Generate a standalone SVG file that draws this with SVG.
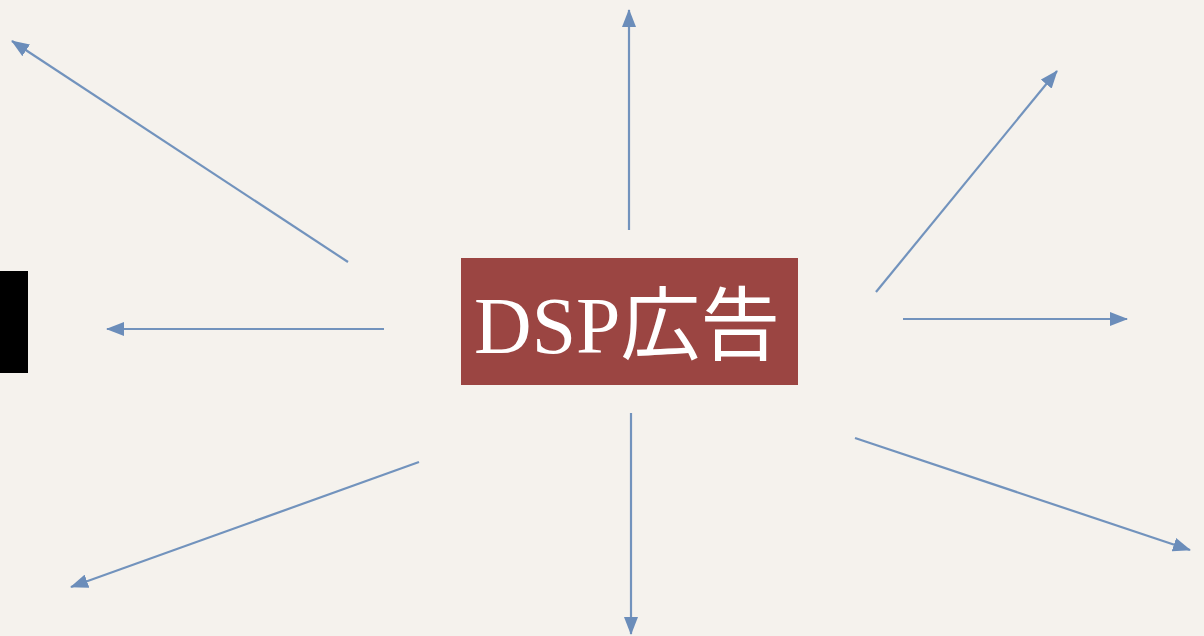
<svg xmlns="http://www.w3.org/2000/svg" width="1204" height="636" viewBox="0 0 1204 636">
<style>
.c{stroke:#7293bd;stroke-width:2.2;fill:none;marker-end:url(#ah)}
.lbl{font-family:"Liberation Serif","Noto Sans CJK JP",serif;font-size:80px;fill:#ffffff}
</style>
<defs>
<marker id="ah" viewBox="0 0 18 14" refX="17" refY="7" markerWidth="18" markerHeight="14" markerUnits="userSpaceOnUse" orient="auto">
<path d="M0,0 L18,7 L0,14 z" fill="#6b8dba"/>
</marker>
</defs>
<rect width="1204" height="636" fill="#f5f2ed"/>
<g id="left-edge">
<rect x="0" y="271" width="28" height="102" fill="#000000"/>
</g>
<g id="center">
<rect x="461" y="258" width="337" height="127" fill="#9b4542"/>
<text class="lbl" x="627" y="353" text-anchor="middle" textLength="306" lengthAdjust="spacingAndGlyphs">DSP広告</text>
</g>
<g id="connectors">
<line class="c" x1="348" y1="262" x2="12" y2="41"/>
<line class="c" x1="629" y1="230" x2="629" y2="10"/>
<line class="c" x1="876" y1="292" x2="1057" y2="71"/>
<line class="c" x1="903" y1="319" x2="1127" y2="319"/>
<line class="c" x1="855" y1="438" x2="1190" y2="550"/>
<line class="c" x1="631" y1="413" x2="631" y2="634"/>
<line class="c" x1="419" y1="462" x2="71" y2="587"/>
<line class="c" x1="384" y1="329" x2="107" y2="329"/>
</g>
</svg>
